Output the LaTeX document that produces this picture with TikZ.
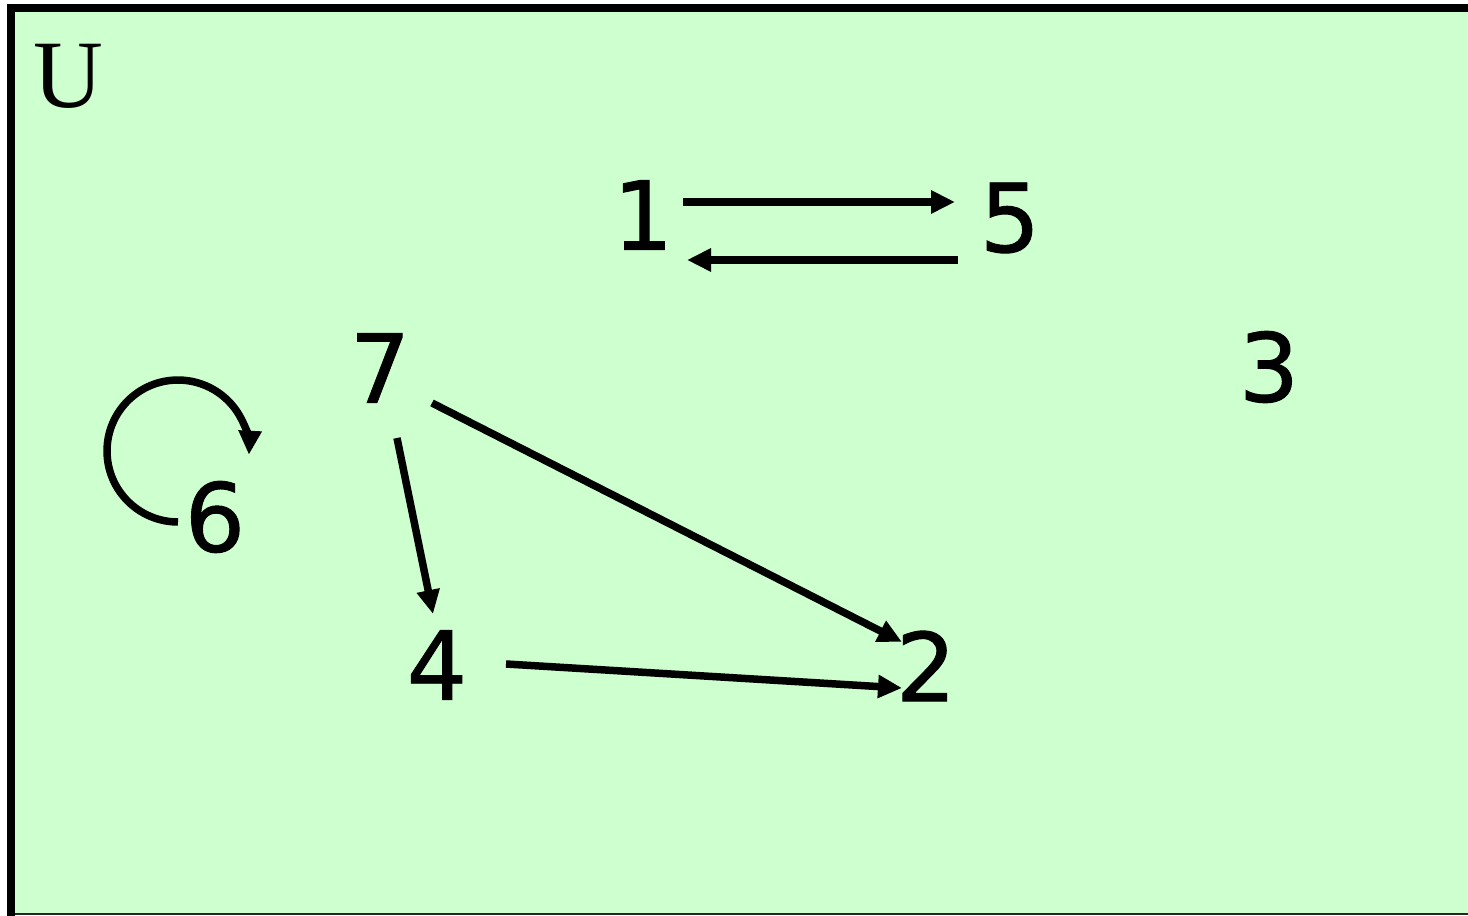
\documentclass[tikz,border=0pt]{standalone}
\usepackage{fontspec}
\usepackage{tikz}
\usetikzlibrary{arrows.meta}
\newfontfamily\digitfont[FakeBold=1]{DejaVu Sans}
\newfontfamily\setfont{Liberation Serif}
\definecolor{setgreen}{RGB}{206,255,206}

\begin{document}
\begin{tikzpicture}[
    x=0.02cm, y=0.02cm,
    elem/.style={inner sep=0pt, font=\digitfont\fontsize{54}{60}\selectfont},
    universe/.style={inner sep=0pt, font=\setfont\fontsize{55}{60}\selectfont},
    arr/.style={-{Triangle[length=0.48cm, width=0.44cm]}, line width=0.15cm}
]
\useasboundingbox (0,0) rectangle (1468,916);

% Universe box
\fill[setgreen] (11,2) rectangle (1468,908);
\draw[line width=0.04cm, black!85] (11,2) -- (1468,2);
\draw[line width=0.16cm] (11,0) -- (11,908) -- (1468,908);
\node[universe] (U) at (68,840) {U};

% Elements
\node[elem] (one) at (643,701) {1};
\node[elem] (five) at (1010,698) {5};
\node[elem] (seven) at (380,548) {7};
\node[elem] (three) at (1269,549) {3};
\node[elem] (six) at (215,399) {6};
\node[elem] (four) at (437,251) {4};
\node[elem] (two) at (926,250) {2};

% Relation
\draw[arr] ([shift={(40,13)}]one.center) -- ([shift={(-55,16)}]five.center);
\draw[arr] ([shift={(-52,-42)}]five.center) -- ([shift={(44,-45)}]one.center);
\draw[arr] ([shift={(52,-35)}]seven.center) -- ([shift={(-24,24)}]two.center);
\draw[arr] ([shift={(17,-70)}]seven.center) -- ([shift={(-4,51)}]four.center);
\draw[arr] ([shift={(69,1)}]four.center) -- ([shift={(-24,-22)}]two.center);
\draw[arr] ([shift={(-37,-5)}]six.center) arc[start angle=270, end angle=-3, radius=1.42cm];

\end{tikzpicture}
\end{document}
